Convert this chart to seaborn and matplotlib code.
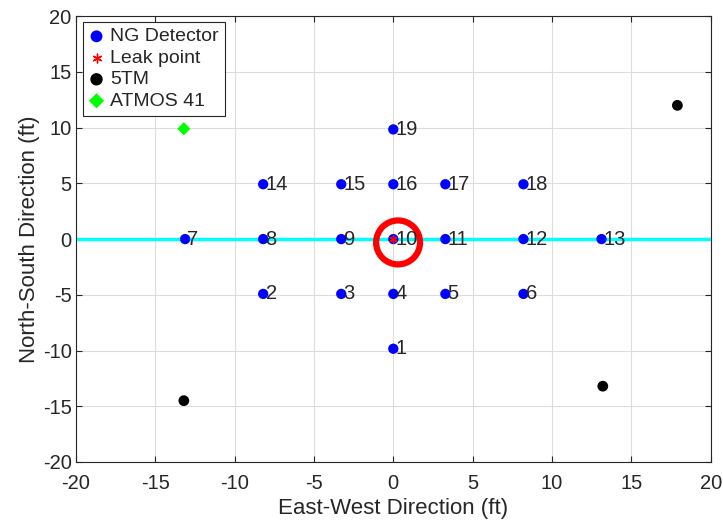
import pandas as pd
import seaborn as sns
import matplotlib.pyplot as plt

# detector positions (ft)
det_id = list(range(1, 20))
det_x = [0, -8.2, -3.28, 0, 3.28, 8.2,
         -13.12, -8.2, -3.28, 0, 3.28, 8.2, 13.12,
         -8.2, -3.28, 0, 3.28, 8.2, 0]
det_y = [-9.84, -4.92, -4.92, -4.92, -4.92, -4.92,
         0, 0, 0, 0, 0, 0, 0,
         4.92, 4.92, 4.92, 4.92, 4.92, 9.84]

leak_x = [0]
leak_y = [0]

tm_x = [-13.2, 13.2, 17.9]
tm_y = [-14.5, -13.2, 12.0]

atmos_x = [-13.2]
atmos_y = [9.9]

circle_x = [0.3]
circle_y = [-0.3]

pipe_x = [-20, 20]
pipe_y = [0, 0]


def main():
    sns.set_style("ticks")
    plt.rcParams["font.family"] = ["Liberation Sans", "DejaVu Sans"]
    plt.rcParams["axes.unicode_minus"] = False

    fig = plt.figure(figsize=(7.23, 5.22), dpi=100)
    ax = fig.add_axes([0.105, 0.115, 0.878, 0.854])

    sns.lineplot(x=pipe_x, y=pipe_y, color="cyan", linewidth=2.5, ax=ax,
                 legend=False, zorder=1)

    det = pd.DataFrame({"x": det_x, "y": det_y, "id": det_id})
    sns.scatterplot(det, x="x", y="y", color="blue", s=55, edgecolor="none",
                    label="NG Detector", ax=ax, zorder=3)
    sns.scatterplot(x=leak_x, y=leak_y, marker=(6, 2, 0), s=30,
                    edgecolor="red", color="red", linewidth=1,
                    label="Leak point", ax=ax, zorder=4)
    sns.scatterplot(x=tm_x, y=tm_y, color="black", s=60, edgecolor="none",
                    label="5TM", ax=ax, zorder=3)
    sns.scatterplot(x=atmos_x, y=atmos_y, color="#00ff00", marker="D", s=45,
                    edgecolor="none", label="ATMOS 41", ax=ax, zorder=3)
    ax.scatter(circle_x, circle_y, s=1000, facecolors="none",
               edgecolors="red", linewidths=4.5, zorder=5)

    for i, x, y in zip(det_id, det_x, det_y):
        ax.text(x + 0.15, y, str(i), fontsize=14.5, va="center", ha="left",
                zorder=6)

    ax.set_xlim(-20, 20)
    ax.set_ylim(-20, 20)
    ax.set_xticks(range(-20, 21, 5))
    ax.set_yticks(range(-20, 21, 5))
    ax.grid(True, color="#dddddd", linewidth=0.8)
    ax.set_axisbelow(True)
    ax.tick_params(direction="in", labelsize=14.5, length=4, color="#262626",
                   top=True, right=True)
    ax.tick_params(axis="x", pad=9)
    ax.tick_params(axis="y", pad=3)
    for sp in ax.spines.values():
        sp.set_color("#262626")
        sp.set_linewidth(0.8)
    ax.set_xlabel("East-West Direction (ft)", fontsize=16, labelpad=3)
    ax.set_ylabel("North-South Direction (ft)", fontsize=16, labelpad=2)

    leg = ax.legend(loc="upper left", fontsize=14, frameon=True,
                    fancybox=False, borderpad=0.3, labelspacing=0.2,
                    handletextpad=0.3, handlelength=0.8, markerscale=1.15,
                    bbox_to_anchor=(0.011, 0.987), borderaxespad=0)
    leg.get_frame().set_edgecolor("#262626")
    leg.get_frame().set_linewidth(0.8)
    leg.get_frame().set_alpha(1)

    plt.savefig("out.png", dpi=100)


if __name__ == "__main__":
    main()
